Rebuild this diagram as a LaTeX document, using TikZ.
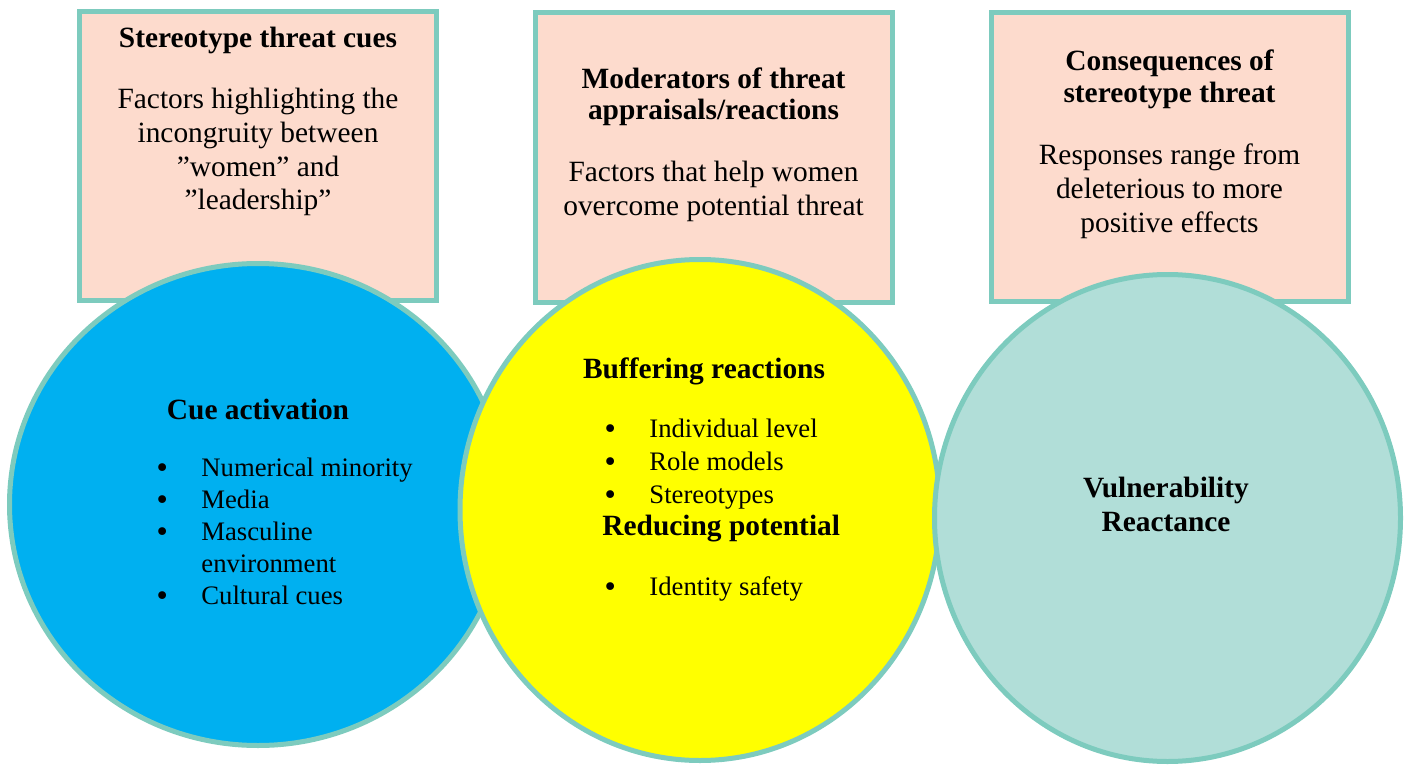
\documentclass[tikz,border=0pt]{standalone}
\usepackage{fontspec}
\setmainfont{Liberation Serif}
\newfontfamily\dotfont{DejaVu Sans}
\usepackage{tikz}
\usetikzlibrary{shapes.geometric, positioning}
\definecolor{rimcolor}{RGB}{125,203,190}
\definecolor{peachcolor}{RGB}{253,219,205}
\definecolor{cuecolor}{RGB}{0,176,240}
\definecolor{buffercolor}{RGB}{255,255,0}
\definecolor{reactcolor}{RGB}{177,222,216}
\newcommand{\blt}{\makebox[23.5pt][l]{\dotfont\raisebox{-0.8pt}{•}}}

\begin{document}
\begin{tikzpicture}[
    x=0.5pt, y=-0.5pt,
    panel/.style={rectangle, draw=rimcolor, line width=2.5pt, fill=peachcolor, minimum width=178.5pt, minimum height=144.5pt, inner sep=0pt},
    disc/.style={ellipse, draw=rimcolor, line width=2.5pt, inner sep=0pt},
    head/.style={font=\fontsize{14.7}{16}\selectfont\bfseries, align=center, anchor=base, inner sep=0pt},
    body/.style={font=\fontsize{14.7}{17}\selectfont, align=center, anchor=base, inner sep=0pt},
    items/.style={font=\fontsize{13.35}{16}\selectfont, align=left, anchor=base west, inner sep=0pt}
]
\useasboundingbox (0,0) rectangle (1409,765);

% Top boxes
\node[panel] (cuesBox) at (258,156) {};
\node[panel] (modBox) at (713.5,157.5) {};
\node[panel] (consBox) at (1169.5,157) {};

% Circles
\node[disc, fill=cuecolor, minimum width=248.5pt, minimum height=241pt] (cue) at (258,504.5) {};
\node[disc, fill=buffercolor, minimum width=240pt, minimum height=250.5pt] (buffer) at (700,510) {};
\node[disc, fill=reactcolor, minimum width=233pt, minimum height=243.5pt] (react) at (1167.5,518) {};

% Box texts (base = last line)
\node[head] (cuesHead) at (258,48) {Stereotype threat cues};
\node[body] (cuesText) at (258,210) {Factors highlighting the\\incongruity between\\”women” and\\”leadership”};
\node[head] (modHead) at (713.5,120) {Moderators of threat\\appraisals/reactions};
\node[body] (modText) at (713.5,215) {Factors that help women\\overcome potential threat};
\node[head] (consHead) at (1169.5,103) {Consequences of\\stereotype threat};
\node[body] (consText) at (1169.5,232) {Responses range from\\deleterious to more\\positive effects};

% Circle texts
\node[head] (cueHead) at (258,419) {Cue activation};
\node[items] (cueList) at (154,604) {\blt Numerical minority\\\blt Media\\\blt Masculine\\\hspace*{23.5pt}environment\\\blt Cultural cues};
\node[head] (bufHead) at (704,378) {Buffering reactions};
\node[items, font=\fontsize{13.35}{16.5}\selectfont] (bufList) at (602,503) {\blt Individual level\\\blt Role models\\\blt Stereotypes};
\node[head, anchor=base west] (redHead) at (602,535) {Reducing potential};
\node[items] (redList) at (602,595) {\blt Identity safety};
\node[head, font=\fontsize{14.7}{17}\selectfont\bfseries] (vulHead) at (1166,531) {Vulnerability\\Reactance};

\end{tikzpicture}
\end{document}
